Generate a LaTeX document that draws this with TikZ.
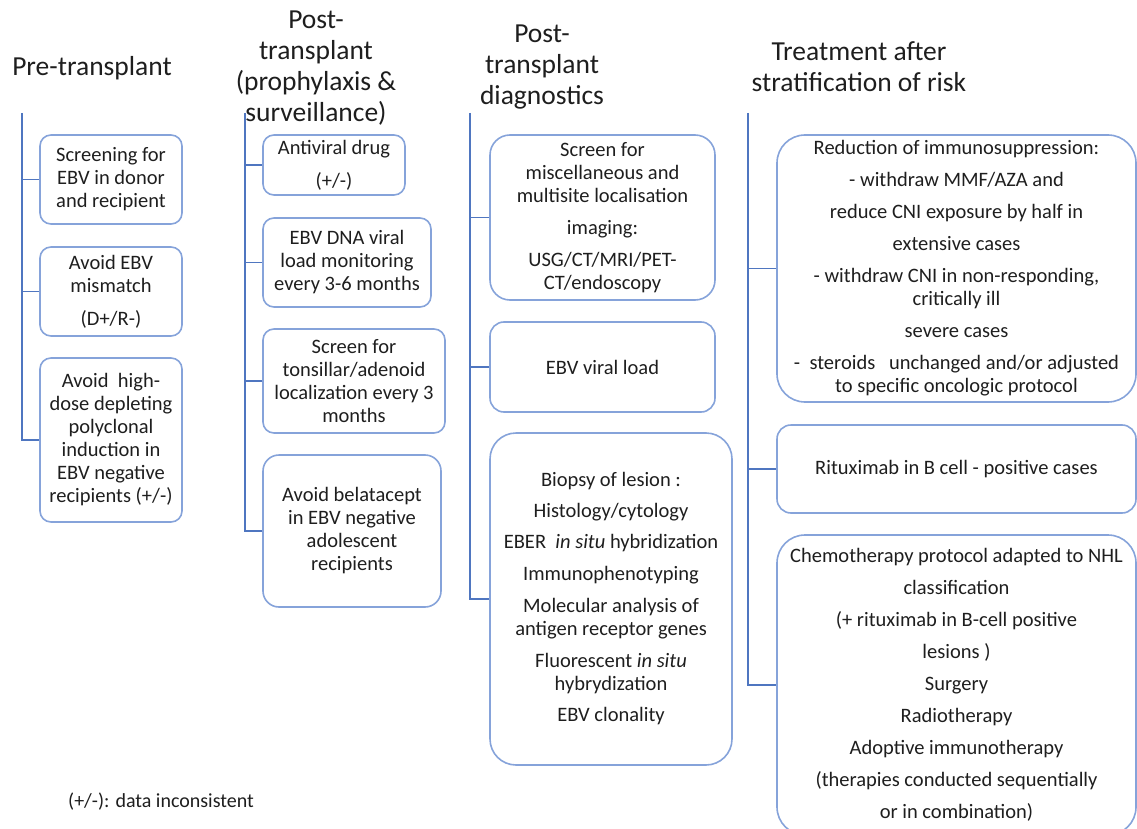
\documentclass[tikz,border=0pt]{standalone}
\usepackage{fontspec}
\setmainfont{Carlito}
\definecolor{boxblue}{HTML}{86A3DA}
\definecolor{lineblue}{HTML}{4F76C0}
\definecolor{txt}{HTML}{1E1E1E}
\tikzset{
  box/.style={draw=boxblue, line width=1.6pt, rounded corners=#1, align=center,
    inner sep=0pt, text=txt, font=\fontsize{20.5}{23}\selectfont},
  box/.default=11pt,
  head/.style={align=center, text=txt, font=\fontsize{27.5}{31}\selectfont, inner sep=0pt},
  conn/.style={draw=lineblue, line width=1.6pt},
}
\begin{document}
\begin{tikzpicture}[x=1pt,y=-1pt]
\useasboundingbox (0,0) rectangle (1137,829);
\clip (0,0) rectangle (1137,829);
% headers
\node[head] (h1) at (92,68) {Pre-transplant};
\node[head] (h2) at (316,68) {Post-\\transplant\\(prophylaxis \&\\surveillance)};
\node[head] (h3) at (542,67) {Post-\\transplant\\diagnostics};
\node[head] (h4) at (859,67) {Treatment after\\stratification of risk};
% spine tops
\coordinate (s1) at (22,113);
\coordinate (s2) at (245,113);
\coordinate (s3) at (470,113);
\coordinate (s4) at (748,113);
% column 1
\node[box, minimum width=142pt, minimum height=89pt] (b1) at (111,179.5) {Screening for\\EBV in donor\\and recipient};
\node[box, minimum width=142pt, minimum height=89pt] (b2) at (111,291.5) {Avoid EBV\\mismatch\\[10pt](D+/R-)};
\node[box, minimum width=142pt, minimum height=164pt] (b3) at (111,440) {Avoid\ \ high-\\dose depleting\\polyclonal\\induction in\\EBV negative\\recipients (+/-)};
% column 2
\node[box, minimum width=142pt, minimum height=60pt] (a1) at (334,165) {Antiviral drug\\[10pt](+/-)};
\node[box, minimum width=168pt, minimum height=89pt] (a2) at (347,262.5) {EBV DNA viral\\load monitoring\\every 3-6 months};
\node[box, minimum width=182pt, minimum height=104pt] (a3) at (354,381) {Screen for\\tonsillar/adenoid\\localization every 3\\months};
\node[box=16pt, minimum width=178pt, minimum height=152pt] (a4) at (352,531) {Avoid belatacept\\in EBV negative\\adolescent\\recipients};
% column 3
\node[box=20pt, minimum width=225pt, minimum height=165pt] (d1) at (602.5,217.5) {Screen for\\miscellaneous and\\multisite localisation\\[9pt]imaging:\\[9pt]USG/CT/MRI/PET-\\CT/endoscopy};
\node[box=14pt, minimum width=225pt, minimum height=90pt] (d2) at (602.5,367) {EBV viral load};
\node[box=26pt, minimum width=242pt, minimum height=332pt] (d3) at (611,599) {Biopsy of lesion :\\[8pt]Histology/cytology\\[8pt]EBER\ \ \textit{in situ} hybridization\\[9pt]Immunophenotyping\\[9pt]Molecular analysis of\\antigen receptor genes\\[9pt]Fluorescent \textit{in situ}\\hybrydization\\[8pt]EBV clonality};
% column 4
\node[box=28pt, minimum width=359pt, minimum height=267pt] (t1) at (956.5,268.5) {Reduction of immunosuppression:\\[9pt]- withdraw MMF/AZA and\\[9pt]reduce CNI exposure by half in\\[9pt]extensive cases\\[9pt]- withdraw CNI in non-responding,\\critically ill\\[9pt]severe cases\\[9pt]-\ \ steroids\ \ \ unchanged and/or adjusted\\to specific oncologic protocol};
\node[box=14pt, minimum width=359pt, minimum height=88pt] (t2) at (956.5,469) {Rituximab in B cell - positive cases};
\node[box=28pt, minimum width=359pt, minimum height=300pt] (t3) at (956.5,685) {Chemotherapy protocol adapted to NHL\\[9pt]classification\\[9pt](+ rituximab in B-cell positive\\[9pt]lesions )\\[9pt]Surgery\\[9pt]Radiotherapy\\[9pt]Adoptive immunotherapy\\[9pt](therapies conducted sequentially\\[9pt]or in combination)};
% connectors
\draw[conn] (s1) |- (b3.west);
\draw[conn] (b1.west) -- (b1.west -| s1);
\draw[conn] (b2.west) -- (b2.west -| s1);
\draw[conn] (s2) |- (a4.west);
\draw[conn] (a1.west) -- (a1.west -| s2);
\draw[conn] (a2.west) -- (a2.west -| s2);
\draw[conn] (a3.west) -- (a3.west -| s2);
\draw[conn] (s3) |- (d3.west);
\draw[conn] (d1.west) -- (d1.west -| s3);
\draw[conn] (d2.west) -- (d2.west -| s3);
\draw[conn] (s4) |- (t3.west);
\draw[conn] (t1.west) -- (t1.west -| s4);
\draw[conn] (t2.west) -- (t2.west -| s4);
% footnote
\node[anchor=west, text=txt, font=\fontsize{20}{23}\selectfont, inner sep=0pt] (fn) at (68,802) {(+/-): data inconsistent};
\end{tikzpicture}
\end{document}
